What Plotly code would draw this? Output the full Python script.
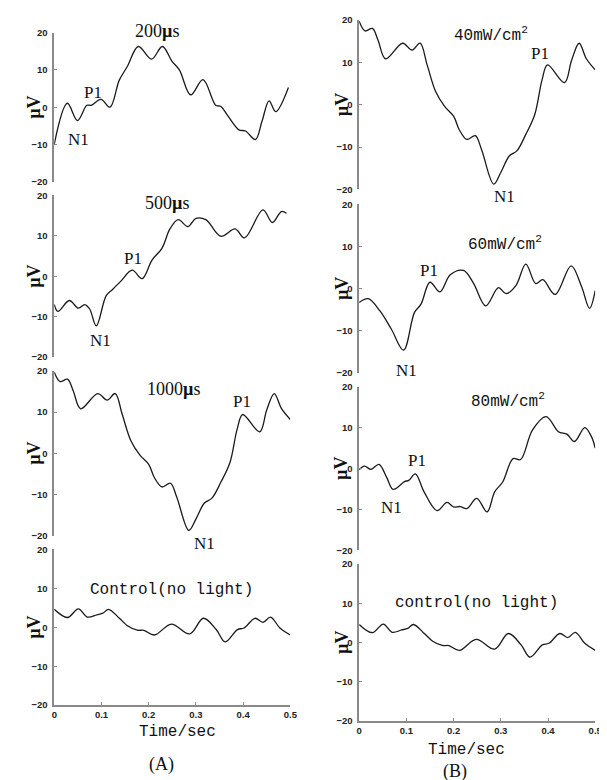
import plotly.graph_objects as go

W, H = 607, 780

# ---------------- data (time in s, amplitude in µV) ----------------
t_200 = [0.0, 0.0277, 0.049, 0.069, 0.078, 0.099, 0.118, 0.1375, 0.155, 0.178, 0.206, 0.229,
         0.249, 0.265, 0.289, 0.315, 0.342, 0.353, 0.367, 0.391, 0.405, 0.426, 0.44, 0.455,
         0.469, 0.496]
v_200 = [-9.9, 1.05, -3.6, 0.5, 0.5, 2.1, 0.0, 7.2, 11.0, 16.3, 12.9, 16.3,
         12.4, 10.0, 3.3, 7.4, 0.5, 0.2, -2.2, -6.1, -6.4, -8.7, -3.8, 1.7,
         -1.2, 5.3]

t_500 = [0.0, 0.0077, 0.032, 0.051, 0.0646, 0.075, 0.089, 0.11, 0.124, 0.141, 0.165, 0.186,
         0.207, 0.228, 0.245, 0.2625, 0.283, 0.30, 0.321, 0.353, 0.383, 0.403, 0.442, 0.462,
         0.481, 0.492]
v_500 = [-7.0, -8.7, -6.0, -7.9, -7.0, -8.1, -12.3, -4.8, -3.2, -1.2, 1.5, -0.6,
         4.0, 6.9, 11.7, 14.0, 12.3, 14.3, 14.0, 9.9, 11.7, 9.5, 16.4, 13.3,
         16.0, 15.6]

t_1000 = [0.0, 0.0125, 0.028, 0.04, 0.056, 0.092, 0.112, 0.129, 0.144, 0.162, 0.181, 0.2,
          0.212, 0.228, 0.246, 0.259, 0.285, 0.30, 0.318, 0.334, 0.353, 0.372, 0.3875, 0.399,
          0.435, 0.45, 0.466, 0.481, 0.5]
v_1000 = [19.7, 17.4, 18.0, 15.2, 10.8, 14.5, 12.9, 14.5, 9.4, 3.1, -0.4, -2.7,
          -5.9, -8.2, -7.3, -10.5, -18.75, -16.0, -12.1, -10.9, -7.0, -2.3, 5.9, 9.4,
          5.2, 10.5, 14.5, 10.9, 8.2]

t_ctrl = [0.0, 0.028, 0.051, 0.07, 0.09, 0.103, 0.115, 0.138, 0.155, 0.176, 0.19, 0.212,
          0.248, 0.287, 0.316, 0.343, 0.362, 0.388, 0.402, 0.425, 0.442, 0.458, 0.478, 0.5]
v_ctrl = [4.6, 2.5, 4.7, 2.6, 3.2, 3.6, 4.6, 2.3, 0.4, -0.75, -0.8, -2.0,
          0.8, -1.7, 2.3, -0.6, -3.75, -0.6, -0.2, 2.3, 1.25, 2.6, -0.2, -2.0]

t_40 = t_1000
v_40 = v_1000

t_60 = [0.0, 0.019, 0.044, 0.068, 0.094, 0.117, 0.131, 0.15, 0.171, 0.193, 0.221, 0.242,
        0.268, 0.295, 0.311, 0.332, 0.353, 0.374, 0.389, 0.415, 0.449, 0.471, 0.488, 0.5]
v_60 = [-3.3, -2.4, -5.3, -9.6, -14.6, -5.7, -3.7, 1.5, -0.8, 3.3, 4.3, 1.3,
        -4.1, 0.2, -1.2, 0.7, 5.8, 1.2, 2.1, -1.4, 5.4, 0.5, -4.7, -0.5]

t_80 = [0.0, 0.011, 0.025, 0.042, 0.058, 0.072, 0.096, 0.105, 0.119, 0.1375, 0.165, 0.186,
        0.2, 0.214, 0.228, 0.249, 0.271, 0.287, 0.304, 0.326, 0.342, 0.367, 0.396, 0.422,
        0.44, 0.456, 0.478, 0.492, 0.5]
v_80 = [-0.3, 0.6, -0.2, 1.0, -2.1, -5.1, -3.2, -2.9, -1.3, -5.7, -10.3, -8.3,
        -9.4, -9.3, -9.8, -7.3, -10.6, -5.7, -3.3, 2.4, 2.2, 9.4, 12.7, 9.0,
        8.4, 6.6, 10.0, 7.8, 5.0]

y_ticks = [-20, -10, 0, 10, 20]
x_ticks = [0, 0.1, 0.2, 0.3, 0.4, 0.5]
x_tick_labels = ["0", "0.1", "0.2", "0.3", "0.4", "0.5"]

titles_A = ["200<b>µ</b>s", "500<b>µ</b>s", "1000<b>µ</b>s", "Control(no light)"]
titles_B = ["40mW/cm<sup>2</sup>", "60mW/cm<sup>2</sup>", "80mW/cm<sup>2</sup>", "control(no light)"]

# ---------------- layout helpers ----------------
def fx(p):
    return p / W

def fy(p):
    return 1 - p / H

series = [
    (t_200, v_200), (t_500, v_500), (t_1000, v_1000), (t_ctrl, v_ctrl),
    (t_40, v_40), (t_60, v_60), (t_80, v_80), (t_ctrl, v_ctrl),
]
# x domain (px) and y domain (px top for +20, px bottom for -20)
xdom = [(44, 284)] * 4 + [(354, 594)] * 4
ydom = [(19, 170), (184, 348), (362, 529), (543, 701),
        (6, 178), (193, 364), (378, 544), (558, 717)]
bottom = [False, False, False, True, False, False, False, True]

fig = go.Figure()
AX = "#8a8a8a"
tickfont = dict(family="Liberation Sans, Arial, sans-serif", size=9.5, color="#222", weight="bold")

for i, (t, v) in enumerate(series):
    n = "" if i == 0 else str(i + 1)
    fig.add_trace(go.Scatter(
        x=t, y=v, mode="lines", xaxis="x" + n, yaxis="y" + n,
        line=dict(color="#1a1a1a", width=1.3, shape="spline", smoothing=1.0),
        showlegend=False, hoverinfo="skip"))
    xa = dict(domain=[fx(xdom[i][0]), fx(xdom[i][1])], range=[0, 0.5], anchor="y" + n,
              showgrid=False, zeroline=False, fixedrange=True)
    if bottom[i]:
        xa.update(showline=True, linecolor=AX, linewidth=1.5, ticks="inside", ticklen=3,
                  tickcolor=AX, tickvals=x_ticks, ticktext=x_tick_labels, tickfont=tickfont)
    else:
        xa.update(visible=False)
    ya = dict(domain=[fy(ydom[i][1]), fy(ydom[i][0])], range=[-20, 20], anchor="x" + n,
              showgrid=False, zeroline=False, showline=True, linecolor=AX, linewidth=1.5,
              ticks="inside", ticklen=3, tickcolor=AX, tickvals=y_ticks, tickfont=tickfont,
              ticklabelstandoff=3, fixedrange=True)
    fig.layout["xaxis" + n] = xa
    fig.layout["yaxis" + n] = ya

ann = []
serif = "Liberation Serif, Times New Roman, serif"
mono = "Liberation Mono, Courier New, monospace"

def text(s, x, y, size=17, family=serif, angle=0):
    ann.append(dict(text=s, x=fx(x), y=fy(y), xref="paper", yref="paper",
                    showarrow=False, textangle=angle, xanchor="center", yanchor="middle",
                    font=dict(family=family, size=size, color="#111")))

# µV labels
for i in range(8):
    cx = 24 if i < 4 else 336
    y0 = ydom[i][0] + (ydom[i][1] - ydom[i][0]) / 2
    text("<b>µV</b>", cx, y0, size=18, angle=-90)

# panel titles
text(titles_A[0], 148, 17, 18)
text(titles_A[1], 159, 192, 18)
text(titles_A[2], 165, 380, 18)
text(titles_A[3], 163, 584, 16, mono)
text(titles_B[0], 488, 21, 16, mono)
text(titles_B[1], 502, 233, 16, mono)
text(titles_B[2], 505, 392, 16, mono)
text(titles_B[3], 473, 597, 16, mono)

# component labels
for s, x, y in [("P1", 83, 80), ("N1", 69, 127),
                ("P1", 124, 248), ("N1", 91, 331),
                ("P1", 235, 393), ("N1", 197, 537),
                ("P1", 538, 40), ("N1", 502, 185),
                ("P1", 425, 260), ("N1", 402, 362),
                ("P1", 413, 453), ("N1", 387, 501)]:
    text(s, x, y, 17)

# axis titles and panel letters
text("Time/sec", 169, 728, 16, mono)
text("Time/sec", 463, 747, 16, mono)
text("(A)", 153, 761, 18)
text("(B)", 451, 768, 18)

fig.update_layout(
    width=W, height=H, margin=dict(l=0, r=0, t=0, b=0),
    paper_bgcolor="white", plot_bgcolor="white", annotations=ann,
)

fig.write_html("out.html")
